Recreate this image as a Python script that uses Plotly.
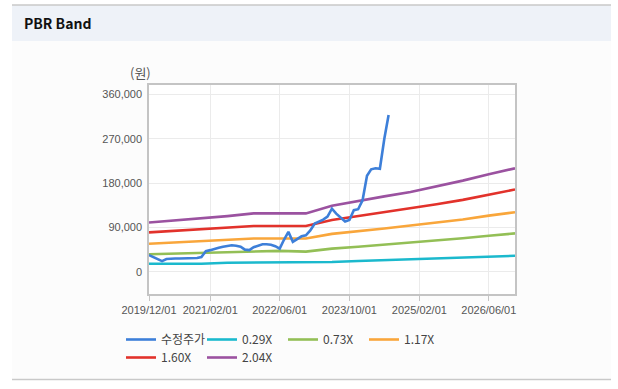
import plotly.graph_objects as go

# ---------------- data ----------------
price_dates = [
    "2019-12-01", "2020-01-01", "2020-02-01", "2020-03-01", "2020-04-01", "2020-05-01",
    "2020-06-01", "2020-07-01", "2020-08-01", "2020-09-01", "2020-10-01", "2020-11-01",
    "2020-12-01", "2021-01-01", "2021-02-01", "2021-03-01", "2021-04-01", "2021-05-01",
    "2021-06-01", "2021-07-01", "2021-08-01", "2021-09-01", "2021-10-01", "2021-11-01",
    "2021-12-01", "2022-01-01", "2022-02-01", "2022-03-01", "2022-04-01", "2022-05-01",
    "2022-06-01", "2022-07-01", "2022-08-01", "2022-09-01", "2022-10-01", "2022-11-01",
    "2022-12-01", "2023-01-01", "2023-02-01", "2023-03-01", "2023-04-01", "2023-05-01",
    "2023-06-01", "2023-07-01", "2023-08-01", "2023-09-01", "2023-10-01", "2023-11-01",
    "2023-12-01", "2024-01-01", "2024-02-01", "2024-03-01", "2024-04-01", "2024-05-01",
    "2024-06-01", "2024-07-01",
]
price_values = [
    33900, 30000, 25000, 21700, 26000, 27000,
    27000, 27000, 27000, 27000, 27000, 28000,
    30000, 42000, 44000, 47000, 49000, 51000,
    53000, 54000, 53000, 51000, 45000, 44000,
    50000, 53000, 56000, 56000, 55000, 52000,
    47000, 65000, 81000, 61000, 66000, 72000,
    74000, 84000, 98000, 102000, 106000, 112000,
    128000, 118000, 110000, 102000, 105000, 125000,
    127000, 145000, 195000, 208000, 210000, 209000,
    270000, 318000,
]

band_dates = [
    "2019-12-01", "2020-06-01", "2020-12-01", "2021-06-01", "2021-12-01",
    "2022-06-01", "2022-12-01", "2023-06-01", "2023-12-01", "2024-06-01",
    "2024-12-01", "2025-06-01", "2025-12-01", "2026-06-01", "2026-12-01",
]
band_029 = [16500, 16500, 16500, 18500, 18500, 18500, 18500, 20000, 22000, 23500,
            25000, 26500, 28000, 30000, 32500]
band_073 = [35500, 37000, 39000, 41000, 42500, 42500, 41000, 47000, 51000, 55000,
            59000, 63000, 68000, 73000, 78000]
band_117 = [57000, 59500, 62000, 65000, 67500, 67500, 67500, 77000, 82000, 88000,
            94000, 100000, 106000, 114000, 121000]
band_160 = [80000, 83000, 86000, 89500, 93000, 93000, 93000, 105000, 113000, 121000,
            128000, 137000, 146000, 156000, 167000]
band_204 = [100000, 104000, 108000, 113000, 118500, 118500, 118500, 134000, 144000, 153000,
            162000, 173000, 185000, 198000, 210000]

series_names = ["수정주가", "0.29X", "0.73X", "1.17X", "1.60X", "2.04X"]
series_colors = ["#3d7fd9", "#1bb9cd", "#93bf56", "#f9a63b", "#e2322b", "#9b52a0"]

y_tick_vals = [0, 90000, 180000, 270000, 360000]
x_tick_vals = ["2019-12-01", "2021-02-01", "2022-06-01", "2023-10-01", "2025-02-01", "2026-06-01"]
x_tick_text = ["2019/12/01", "2021/02/01", "2022/06/01", "2023/10/01", "2025/02/01", "2026/06/01"]

# ---------------- figure ----------------
W, H = 618, 389
L, R, T, B = 149, 515, 85, 294
pw, ph = R - L, B - T


def px(x):
    return (x - L) / pw


def py(y):
    return (B - y) / ph


FONT = "Noto Sans CJK KR, Liberation Sans, Arial, sans-serif"
TICKFONT = "Liberation Sans, Arial, sans-serif"

fig = go.Figure()

band_data = [band_029, band_073, band_117, band_160, band_204]
for i, vals in enumerate(band_data):
    fig.add_trace(go.Scatter(
        x=band_dates, y=vals, mode="lines", name=series_names[i + 1],
        line=dict(color=series_colors[i + 1], width=2.6),
        legend="legend" if i < 3 else "legend2",
        legendrank=i + 2,
    ))

fig.add_trace(go.Scatter(
    x=price_dates, y=price_values, mode="lines", name=series_names[0],
    line=dict(color=series_colors[0], width=2.6),
    legend="legend", legendrank=1,
))

shapes = [
    dict(type="rect", xref="paper", yref="paper", x0=px(12), x1=px(611), y0=py(379), y1=py(41),
         fillcolor="#fcfcfc", line=dict(width=0), layer="below"),
    dict(type="rect", xref="paper", yref="paper", x0=px(12), x1=px(611), y0=py(41), y1=py(5),
         fillcolor="#eef2f8", line=dict(width=0), layer="below"),
    dict(type="line", xref="paper", yref="paper", x0=px(12), x1=px(611), y0=py(5), y1=py(5),
         line=dict(color="#c9c9c9", width=1.5)),
    dict(type="line", xref="paper", yref="paper", x0=px(12), x1=px(611), y0=py(379.5), y1=py(379.5),
         line=dict(color="#c9c9c9", width=1.5)),
    dict(type="rect", xref="paper", yref="paper", x0=0, x1=1, y0=0, y1=1,
         fillcolor="#ffffff", line=dict(width=0), layer="below"),
]

annotations = [
    dict(text="<b>PBR Band</b>", xref="paper", yref="paper", x=px(22), y=py(23),
         xanchor="left", yanchor="middle", showarrow=False,
         font=dict(family=FONT, size=14, color="#111111")),
    dict(text="(원)", xref="paper", yref="paper", x=px(140), y=py(73),
         xanchor="center", yanchor="middle", showarrow=False,
         font=dict(family=FONT, size=13, color="#555555")),
]

legend_common = dict(
    orientation="h", xanchor="left", yanchor="top",
    bgcolor="rgba(0,0,0,0)", font=dict(family=FONT, size=12, color="#444444"),
    entrywidth=36, entrywidthmode="pixels", itemwidth=30, traceorder="normal",
    itemclick=False,
)

fig.update_layout(
    width=W, height=H,
    margin=dict(l=L, r=W - R, t=T, b=H - B, pad=0),
    paper_bgcolor="#ffffff",
    plot_bgcolor="rgba(0,0,0,0)",
    shapes=shapes,
    annotations=annotations,
    showlegend=True,
    legend=dict(x=px(121), y=py(325), **legend_common),
    legend2=dict(x=px(121), y=py(343), **legend_common),
    xaxis=dict(
        type="date", range=["2019-12-01", "2026-12-01"],
        tickvals=x_tick_vals, ticktext=x_tick_text,
        showgrid=True, gridcolor="#ebebeb", gridwidth=1,
        showline=True, linecolor="#c4c4c4", linewidth=1.5, mirror=True,
        ticks="outside", ticklen=5, tickcolor="#c4c4c4",
        tickfont=dict(family=TICKFONT, size=11, color="#555555"),
        zeroline=False, fixedrange=True,
    ),
    yaxis=dict(
        range=[-45000, 379000], tickvals=y_tick_vals, tickformat=",",
        showgrid=True, gridcolor="#ebebeb", gridwidth=1,
        showline=True, linecolor="#c4c4c4", linewidth=1.5, mirror=True,
        ticks="", ticklabelstandoff=3,
        tickfont=dict(family=TICKFONT, size=11, color="#555555"),
        zeroline=False, fixedrange=True,
    ),
)

fig.write_html(
    "out.html",
    config={"displayModeBar": False},
    post_script="document.body.style.margin='0px';",
)
